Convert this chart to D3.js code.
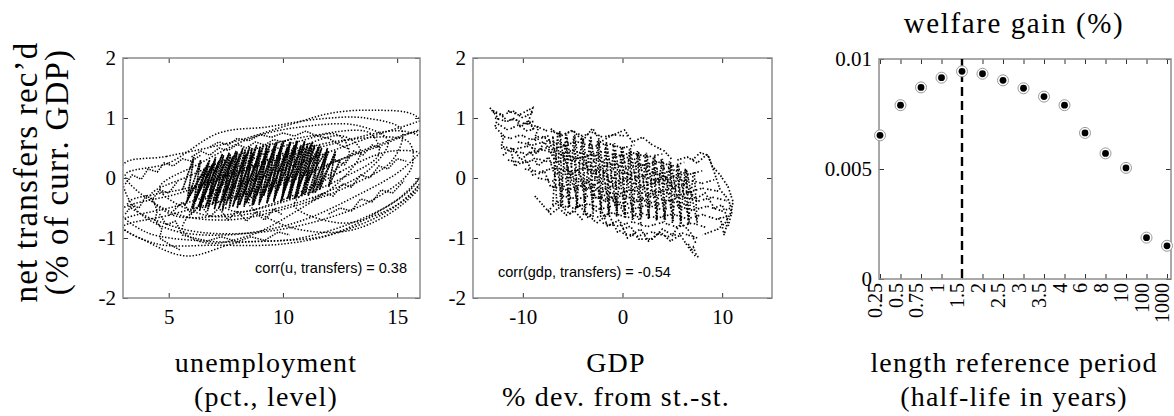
<!DOCTYPE html>
<html>
<head>
<meta charset="utf-8">
<title>transfers and welfare gain</title>
<style>
  body { margin: 0; background: #fff; }
  svg text.lab, svg .tick text { font-family: "Liberation Serif", "Times New Roman", Times, serif; fill: #000; }
</style>
</head>
<body>
<script src="https://d3js.org/d3.v7.min.js"></script>
<script>
// ---- tick values ----
var uTicks = [5, 10, 15];
var gdpTicks = [-10, 0, 10];
var transferTicks = [-2, -1, 0, 1, 2];
var gainTicks = [0, 0.005, 0.01];

// ---- right panel: welfare gain by half-life of the reference period ----
var periods = ["0.25", "0.5", "0.75", "1", "1.5", "2", "2.5", "3", "3.5", "4", "6", "8", "10", "100", "1000"];
var welfare = [0.00653, 0.0079, 0.00871, 0.00915, 0.00944, 0.00933, 0.00903, 0.00867, 0.00829, 0.0079, 0.00664, 0.00571, 0.00505, 0.00188, 0.00151];
var chosenPeriod = "1.5";

// ---- left panel: unemployment vs transfers (traced trajectories) ----
var uLoops = [
  [[3.0,0.22],[4.9,0.36],[7.8,0.6],[10.4,0.9],[12.1,1.08],[13.9,1.13],[15.8,1.04],[16.4,0.7],[15.4,0.2],[13.2,-0.3],[10.5,-0.75],[7.5,-0.95],[5,-0.85],[3.4,-0.45]],
  [[2.8,-0.75],[5.5,-0.45],[9,0.0],[12.5,0.5],[15.2,0.85],[16.5,0.95],[16.6,0.4],[15.2,-0.3],[13,-0.75],[10.5,-1.02],[8,-1.08],[5.8,-1.3],[4.0,-1.05]],
  [[3.1,0.05],[5.0,0.25],[7.2,0.75],[9.3,0.85],[11.5,0.98],[13.6,1.0],[15.2,0.8],[14.8,0.3],[12.8,-0.15],[10.2,-0.5],[7.5,-0.7],[5,-0.55]],
  [[4.6,-0.17],[6.4,0.25],[8.7,0.68],[11,0.86],[13.2,0.88],[14.6,0.62],[13.8,0.15],[11.8,-0.25],[9.2,-0.55],[6.6,-0.62]],
  [[2.9,-0.55],[5.5,-0.25],[8.5,0.15],[12,0.55],[15.3,0.78],[16.4,0.55],[15.8,-0.1],[14,-0.6],[12,-0.95],[9.5,-1.05],[6.5,-1.05],[4.0,-0.9]],
  [[3.2,-0.42],[6,-0.15],[9,0.25],[12.5,0.62],[15.5,0.6],[15.6,0.15],[14,-0.35],[11.5,-0.72],[8.5,-0.92],[5.6,-0.85]],
  [[8.5,-0.4],[11,0.05],[13.8,0.5],[16.3,0.75],[16.4,0.1],[15.2,-0.45],[13.2,-0.85],[11.5,-0.9],[9.8,-0.75]],
  [[5.6,-0.85],[6.6,-0.35],[8.2,0.1],[10.5,0.48],[12.6,0.7],[13.4,0.45],[12.5,-0.05],[10.6,-0.55],[8.6,-0.95],[6.6,-1.08]],
  [[10.5,-0.45],[12.5,0.1],[14.8,0.45],[16.3,0.35],[15.8,-0.2],[14.2,-0.6],[12.5,-0.75]],
  [[3.0,-0.82],[5,-0.62],[8,-0.3],[11,0.1],[14,0.5],[16.5,0.8],[16.5,0.2],[15,-0.45],[12.5,-0.9],[10,-1.1],[7,-1.12],[4.5,-1.1]],
  [[4.2,-0.3],[6,0.05],[8.5,0.45],[11.2,0.7],[13.8,0.75],[14.2,0.4],[12.6,0.0],[10,-0.4],[7.4,-0.62],[5.2,-0.62]],
  [[6.8,-0.2],[8.6,0.3],[10.8,0.62],[12.4,0.72],[12.9,0.4],[11.6,-0.05],[9.6,-0.42],[7.8,-0.55]]
];
var uPaths = [
  [[3.1,-0.1],[3.4,0.05],[3.8,-0.02],[4.1,0.15],[4.5,0.1],[4.8,0.25],[5.2,0.2],[5.6,0.32],[6.0,0.28],[6.4,0.38]],
  [[3.1,-0.6],[3.4,-0.45],[3.7,-0.5],[4.0,-0.3],[4.3,-0.35],[4.6,-0.2],[5.0,-0.25],[5.4,-0.05]],
  [[6.8,0.52],[7.2,0.6],[7.6,0.55],[8.0,0.66],[8.5,0.62],[9.0,0.72],[9.5,0.68],[10.0,0.75],[10.5,0.7],[11.0,0.78],[11.5,0.7],[12.0,0.66],[12.5,0.55],[12.9,0.48]],
  [[4.6,-0.6],[4.9,-0.78],[5.3,-0.72],[5.6,-0.95],[6.1,-1.0],[6.7,-1.05],[7.3,-0.98],[8.0,-1.06],[8.6,-0.98],[9.2,-1.04],[9.8,-0.9],[10.3,-0.95]],
  [[11.3,-0.35],[11.8,-0.25],[12.2,-0.3],[12.6,-0.1],[13.0,-0.15],[13.4,0.05],[13.8,0.0],[14.2,0.2],[14.6,0.15],[15.0,0.32],[15.4,0.28]],
  [[11.8,0.15],[12.3,0.3],[12.7,0.22],[13.1,0.45],[13.5,0.38],[13.9,0.55],[14.3,0.5]],
  [[12.0,-0.6],[12.5,-0.5],[13.0,-0.55],[13.4,-0.35],[13.9,-0.4],[14.3,-0.2],[14.8,-0.25],[15.3,-0.05]],
  [[4.3,-0.35],[4.5,-0.55],[4.4,-0.7],[4.7,-0.85],[4.6,-1.0],[5.0,-1.1],[5.5,-1.2]],
  [[5.2,-0.55],[5.6,-0.4],[6.0,-0.6],[6.4,-0.45],[6.8,-0.65],[7.2,-0.5],[7.6,-0.7],[8.0,-0.55],[8.4,-0.72],[8.8,-0.58],[9.2,-0.7],[9.6,-0.52],[10.0,-0.62]],
  [[6.0,0.35],[6.4,0.45],[6.8,0.38],[7.2,0.5],[7.6,0.46],[8.0,0.56],[8.4,0.5],[8.8,0.6],[9.2,0.55],[9.6,0.64],[10.0,0.6],[10.4,0.66]]
];
var uCore = [
  [[5.7,-0.45],[6.6,0.15],[6.0,-0.5],[6.9,0.22],[6.3,-0.48],[7.2,0.28],[6.6,-0.5],[7.5,0.3],[6.9,-0.45],[7.8,0.35],[7.2,-0.5],[8.1,0.38],[7.5,-0.45],[8.4,0.4],[7.8,-0.48],[8.7,0.42],[8.1,-0.45],[9.0,0.45],[8.4,-0.42],[9.3,0.45],[8.7,-0.45],[9.6,0.5],[9.0,-0.4],[9.9,0.5],[9.3,-0.42],[10.2,0.52],[9.6,-0.38],[10.5,0.55],[9.9,-0.4],[10.8,0.55],[10.2,-0.35],[11.1,0.58],[10.5,-0.35],[11.4,0.55],[10.8,-0.3],[11.7,0.5],[11.1,-0.3],[12.0,0.45],[11.4,-0.25],[12.3,0.4]],
  [[5.9,-0.3],[6.8,0.3],[6.15,-0.38],[7.05,0.32],[6.45,-0.4],[7.35,0.4],[6.75,-0.35],[7.65,0.42],[7.05,-0.4],[7.95,0.45],[7.35,-0.38],[8.25,0.5],[7.65,-0.35],[8.55,0.52],[7.95,-0.36],[8.85,0.55],[8.25,-0.3],[9.15,0.55],[8.55,-0.32],[9.45,0.58],[8.85,-0.28],[9.75,0.6],[9.15,-0.3],[10.05,0.62],[9.45,-0.25],[10.35,0.6],[9.75,-0.22],[10.65,0.62],[10.05,-0.2],[10.95,0.6],[10.35,-0.18],[11.25,0.58],[10.65,-0.15],[11.55,0.5],[10.95,-0.12],[11.85,0.42]],
  [[5.6,-0.2],[6.1,0.35],[5.8,-0.4],[6.4,0.3],[6.05,-0.52],[6.75,0.25],[6.35,-0.55],[7.05,0.35],[6.7,-0.55],[7.4,0.38],[7.0,-0.52],[7.7,0.4],[7.35,-0.55],[8.0,0.44],[7.65,-0.5],[8.35,0.48],[8.0,-0.5],[8.65,0.5],[8.3,-0.48],[9.0,0.52],[8.65,-0.46],[9.3,0.55],[8.95,-0.45],[9.65,0.58],[9.3,-0.42],[9.95,0.58],[9.6,-0.4],[10.3,0.6],[9.95,-0.38],[10.6,0.62],[10.3,-0.35],[10.95,0.62],[10.6,-0.32],[11.3,0.6],[10.95,-0.28],[11.6,0.55],[11.3,-0.25],[11.95,0.5],[11.6,-0.2],[12.3,0.45],[12.0,-0.15],[12.5,0.3]]
];

// ---- middle panel: GDP deviation vs transfers (traced trajectories) ----
var gdpPaths = [
  [[-13.3,1.17],[-12.5,1.0],[-12.8,0.85],[-11.9,0.7],[-12.2,0.5],[-11.2,0.45],[-10.8,0.2],[-9.6,0.3],[-9.0,0.05],[-7.8,0.1],[-7.2,-0.15],[-6,-0.1],[-5.2,-0.35]],
  [[-11.5,1.12],[-10.4,1.05],[-9.0,1.17],[-9.5,0.9],[-8.4,0.85],[-8.9,0.62],[-7.5,0.7],[-7.0,0.45],[-5.8,0.55],[-5.2,0.3],[-4.0,0.35],[-3.3,0.1],[-2.0,0.15],[-1.2,-0.1]],
  [[-12.0,0.38],[-11.0,0.5],[-10.2,0.3],[-9.2,0.45],[-8.5,0.2],[-7.4,0.35],[-6.8,0.05],[-5.5,0.15],[-4.8,-0.2],[-3.5,-0.05],[-2.6,-0.35],[-1.3,-0.25],[-0.5,-0.5]],
  [[-7.2,0.82],[-6.2,0.7],[-5.0,0.8],[-4.0,0.62],[-3.0,0.83],[-2.2,0.6],[-1.2,0.7],[0.2,0.8],[1.0,0.6],[2.0,0.68],[3.0,0.55],[4.2,0.45],[5.0,0.3]],
  [[-7.5,-0.55],[-6.5,-0.4],[-5.3,-0.6],[-4.3,-0.45],[-3.5,-0.65],[-2.2,-0.5],[-1.5,-0.8],[-0.3,-0.7],[0.5,-1.0],[1.8,-0.85],[2.6,-1.05],[3.8,-0.9],[4.8,-1.05],[5.8,-0.95],[6.6,-1.15],[7.3,-1.3]],
  [[5.5,0.3],[6.5,0.35],[7.5,0.25],[8.5,0.4],[9.0,0.2],[9.8,0.05],[10.6,-0.15],[11.1,-0.4],[10.8,-0.6],[10.3,-0.75],[9.6,-0.85],[8.8,-0.9],[8.0,-0.95]],
  [[3.0,-0.1],[4.2,0.05],[5.2,-0.2],[6.3,-0.1],[7.3,-0.35],[8.3,-0.25],[9.2,-0.5],[10.0,-0.45],[10.6,-0.7],[10.2,-0.95],[9.8,-0.65]],
  [[-13.0,1.1],[-12.2,1.05],[-11.5,0.95],[-10.8,1.0],[-10.2,0.85],[-9.5,0.95],[-8.8,0.8]],
  [[-3.8,-0.55],[-2.6,-0.75],[-1.4,-0.6],[-0.5,-0.9],[0.8,-0.8],[1.6,-1.02],[3.0,-1.02],[4.0,-0.85],[5.0,-0.95],[5.9,-0.75],[6.8,-0.9],[7.4,-1.1]],
  [[-9.5,0.6],[-8.6,0.4],[-7.8,0.6],[-6.8,0.3],[-6,0.4],[-5.2,0.05],[-4.5,0.15],[-3.7,-0.2],[-2.8,-0.1],[-1.8,-0.4],[-0.8,-0.3],[0.2,-0.6],[1.2,-0.55],[2,-0.8]],
  [[-8.8,-0.3],[-8.0,-0.45],[-7.2,-0.6],[-6.4,-0.5],[-5.6,-0.62],[-4.8,-0.55],[-4.0,-0.7]],
  [[7.0,0.3],[7.8,0.42],[8.6,0.38],[9.2,0.1],[9.8,-0.2],[10.6,-0.35],[11.0,-0.55],[10.6,-0.8]],
  [[6.6,-1.1],[6.9,-1.2],[7.1,-1.15],[7.4,-1.28],[7.6,-1.32]]
];
// body of the cloud, traced as wavy rows of points
var gdpRows = [
  [[-13,1.12],[-12,1.05],[-11,1.12],[-10,1.0],[-9,1.1]],
  [[-12.8,1.0],[-11.8,0.95],[-10.8,0.98],[-9.8,0.9],[-8.8,0.95]],
  [[-12.5,0.9],[-11.5,0.8],[-10.5,0.88],[-9.5,0.78],[-8.5,0.85],[-7.5,0.78]],
  [[-12.2,0.7],[-11.2,0.66],[-10.2,0.72],[-9.2,0.64],[-8.2,0.7],[-7.2,0.62]],
  [[-7.2,0.78],[-6,0.72],[-5,0.78],[-4,0.7],[-3,0.76],[-2,0.68],[-1,0.72],[0.5,0.7]],
  [[-10.5,0.6],[-9,0.55],[-7.5,0.62],[-6,0.55],[-4.5,0.6],[-3,0.52],[-1.5,0.58],[0,0.5],[1.2,0.55]],
  [[-12,0.52],[-10.8,0.48],[-9.6,0.53],[-8.4,0.47],[-7.2,0.52]],
  [[-11,0.45],[-9.5,0.4],[-8,0.47],[-6.5,0.4],[-5,0.46],[-3.5,0.38],[-2,0.44],[-0.5,0.37],[1,0.42],[2.5,0.35],[4,0.4]],
  [[-11.5,0.3],[-10,0.25],[-8.5,0.32],[-7,0.25],[-5.5,0.31],[-4,0.24],[-2.5,0.3],[-1,0.22],[0.5,0.29],[2,0.21],[3.5,0.27],[5,0.2],[6.2,0.26]],
  [[-9.8,0.15],[-8.3,0.1],[-6.8,0.17],[-5.3,0.1],[-3.8,0.16],[-2.3,0.09],[-0.8,0.15],[0.7,0.08],[2.2,0.14],[3.7,0.07],[5.2,0.13],[6.7,0.06],[8,0.12]],
  [[-8.5,0.0],[-7,-0.05],[-5.5,0.02],[-4,-0.06],[-2.5,0.01],[-1,-0.07],[0.5,0.0],[2,-0.08],[3.5,-0.01],[5,-0.08],[6.5,-0.02],[8,-0.09],[9.2,-0.03]],
  [[-7,-0.15],[-5.5,-0.2],[-4,-0.13],[-2.5,-0.21],[-1,-0.14],[0.5,-0.22],[2,-0.15],[3.5,-0.23],[5,-0.16],[6.5,-0.24],[8,-0.17],[9.6,-0.22]],
  [[-6,-0.3],[-4.5,-0.35],[-3,-0.28],[-1.5,-0.36],[0,-0.29],[1.5,-0.37],[3,-0.3],[4.5,-0.38],[6,-0.31],[7.5,-0.39],[9,-0.32],[10.5,-0.38]],
  [[-6.5,-0.45],[-5,-0.5],[-3.5,-0.43],[-2,-0.51],[-0.5,-0.44],[1,-0.52],[2.5,-0.45],[4,-0.53],[5.5,-0.46],[7,-0.54],[8.5,-0.47],[10,-0.55],[10.9,-0.5]],
  [[-4,-0.6],[-2.5,-0.65],[-1,-0.58],[0.5,-0.66],[2,-0.59],[3.5,-0.67],[5,-0.6],[6.5,-0.68],[8,-0.61],[9.5,-0.69],[10.5,-0.64]],
  [[-2,-0.75],[-0.5,-0.8],[1,-0.73],[2.5,-0.81],[4,-0.74],[5.5,-0.82],[7,-0.75],[8.5,-0.83]],
  [[0,-0.92],[1.5,-0.97],[3,-0.9],[4.5,-0.98],[6,-0.92],[7.5,-1.0]],
  [[-3,0.08],[-1.5,0.03],[0,0.09],[1.5,0.02],[3,0.08],[4.5,0.01],[6,0.06]],
  [[-2.5,-0.07],[-1,-0.12],[0.5,-0.06],[2,-0.13],[3.5,-0.07],[5,-0.14],[6.5,-0.08]],
  [[-2,-0.22],[-0.5,-0.27],[1,-0.21],[2.5,-0.28],[4,-0.22],[5.5,-0.29],[7,-0.23]],
  [[-1,-0.38],[0.5,-0.43],[2,-0.37],[3.5,-0.44],[5,-0.38],[6.5,-0.45]],
  [[-4,0.22],[-2.5,0.17],[-1,0.23],[0.5,0.16],[2,0.22],[3.5,0.15],[5,0.19]],
  [[-6,0.38],[-4.5,0.33],[-3,0.38],[-1.5,0.31],[0,0.36],[1.5,0.3]],
  [[-1,0.0],[0.5,-0.03],[2,0.03],[3.5,-0.04],[5,0.01],[6.5,-0.05]]
];
// dense middle of the cloud, crossing strokes
var gdpCore = [
  [[-7,-0.45],[-6.5,0.75],[-6.2,-0.48],[-5.7,0.72],[-5.4,-0.5],[-4.9,0.7],[-4.6,-0.52],[-4.1,0.68],[-3.8,-0.55],[-3.3,0.65],[-3.0,-0.57],[-2.5,0.62],[-2.2,-0.6],[-1.7,0.58],[-1.4,-0.62],[-0.9,0.55],[-0.6,-0.65],[-0.1,0.52],[0.2,-0.67],[0.7,0.48],[1.0,-0.7],[1.5,0.45],[1.8,-0.7],[2.3,0.4],[2.6,-0.7],[3.1,0.36],[3.4,-0.72],[3.9,0.32],[4.2,-0.73],[4.7,0.28],[5.0,-0.75],[5.5,0.22],[5.8,-0.76],[6.3,0.16],[6.6,-0.78],[7.1,0.1]],
  [[-6.6,-0.4],[-7.0,0.7],[-6.0,-0.45],[-6.3,0.78],[-5.3,-0.5],[-5.6,0.72],[-4.5,-0.5],[-4.8,0.72],[-3.7,-0.5],[-4.0,0.7],[-2.9,-0.55],[-3.2,0.7],[-2.1,-0.55],[-2.4,0.64],[-1.3,-0.6],[-1.6,0.6],[-0.5,-0.62],[-0.8,0.58],[0.3,-0.62],[0.0,0.52],[1.1,-0.68],[0.8,0.5],[1.9,-0.66],[1.6,0.45],[2.7,-0.68],[2.4,0.42],[3.5,-0.7],[3.2,0.38],[4.3,-0.7],[4.0,0.32],[5.1,-0.72],[4.8,0.28],[5.9,-0.72],[5.6,0.22],[6.7,-0.75],[6.4,0.15],[7.5,-0.75],[7.2,0.1]]
];

var svg = d3.select("body").append("svg")
  .attr("width", 1174)
  .attr("height", 416);

var boxColor = "#8c8c8c";

// draws box + inward ticks like matlab, returns the plot group
function makePanel(id, left, top, w, h, x, y, xTicks, yTicks, showXLabels) {
  var g = svg.append("g").attr("transform", "translate(" + left + "," + top + ")");

  g.append("clipPath").attr("id", id)
    .append("rect").attr("width", w).attr("height", h);

  var fmt = function (d) { return String(d); };
  var bottom = d3.axisBottom(x).tickSizeInner(-5).tickSizeOuter(0).tickPadding(11)
    .tickFormat(showXLabels ? fmt : "");
  if (xTicks) bottom.tickValues(xTicks);
  var topAx = d3.axisTop(x).tickSizeInner(-5).tickSizeOuter(0).tickFormat("");
  if (xTicks) topAx.tickValues(xTicks);

  g.append("g").attr("transform", "translate(0," + h + ")").call(bottom);
  g.append("g").call(topAx);
  g.append("g").call(d3.axisLeft(y).tickValues(yTicks).tickSizeInner(-5).tickSizeOuter(0).tickPadding(7).tickFormat(fmt));
  g.append("g").attr("transform", "translate(" + w + ",0)")
    .call(d3.axisRight(y).tickValues(yTicks).tickSizeInner(-5).tickSizeOuter(0).tickFormat(""));

  g.selectAll(".domain").remove();
  g.selectAll(".tick line").attr("stroke", "#333");
  g.selectAll(".tick text").attr("font-size", 21);

  g.append("rect").attr("width", w).attr("height", h)
    .attr("fill", "none").attr("stroke", boxColor).attr("stroke-width", 1.5);
  return g;
}

// ---- panel 1 ----
var x1 = d3.scaleLinear().domain([3, 16]).range([0, 297]);
var y1 = d3.scaleLinear().domain([-2, 2]).range([240, 0]);
var p1 = makePanel("clip1", 123, 58, 297, 240, x1, y1, uTicks, transferTicks, true);
var data1 = p1.insert("g", ":first-child").attr("clip-path", "url(#clip1)");
var loopLine = d3.line().x(function (d) { return x1(d[0]); }).y(function (d) { return y1(d[1]); })
  .curve(d3.curveCatmullRomClosed);
var jagLine1 = d3.line().x(function (d) { return x1(d[0]); }).y(function (d) { return y1(d[1]); });

data1.selectAll(".loop").data(uLoops).enter().append("path")
  .attr("d", loopLine)
  .attr("fill", "none").attr("stroke", "#000").attr("stroke-width", 1.5)
  .attr("stroke-dasharray", "1.4,1.8");
data1.selectAll(".jag").data(uPaths).enter().append("path")
  .attr("d", jagLine1)
  .attr("fill", "none").attr("stroke", "#000").attr("stroke-width", 1.5)
  .attr("stroke-dasharray", "1.4,1.3");
data1.selectAll(".core").data(uCore).enter().append("path")
  .attr("d", jagLine1)
  .attr("fill", "none").attr("stroke", "#000").attr("stroke-width", 1.6)
  .attr("stroke-dasharray", "2,0.6");

p1.append("text")
  .attr("x", 284).attr("y", 215)
  .attr("text-anchor", "end")
  .attr("font-family", "'Liberation Sans', Arial, sans-serif")
  .attr("font-size", 14.5)
  .text("corr(u, transfers) = 0.38");

// ---- panel 2 ----
var x2 = d3.scaleLinear().domain([-15, 15]).range([0, 299]);
var y2 = d3.scaleLinear().domain([-2, 2]).range([240, 0]);
var p2 = makePanel("clip2", 473, 58, 299, 240, x2, y2, gdpTicks, transferTicks, true);
var data2 = p2.insert("g", ":first-child").attr("clip-path", "url(#clip2)");
var jagLine2 = d3.line().x(function (d) { return x2(d[0]); }).y(function (d) { return y2(d[1]); });
data2.selectAll(".gdp").data(gdpPaths).enter().append("path")
  .attr("d", jagLine2)
  .attr("fill", "none").attr("stroke", "#000").attr("stroke-width", 1.7)
  .attr("stroke-dasharray", "1.5,1.4,1.5,2.4,1.5,1.9");
data2.selectAll(".grow").data(gdpRows).enter().append("path")
  .attr("d", jagLine2)
  .attr("fill", "none").attr("stroke", "#000").attr("stroke-width", 1.7)
  .attr("stroke-dasharray", "1.5,1.6,1.5,2.6,1.5,1.2,1.5,3.2");
data2.selectAll(".gcore").data(gdpCore).enter().append("path")
  .attr("d", jagLine2)
  .attr("fill", "none").attr("stroke", "#000").attr("stroke-width", 1.6)
  .attr("stroke-dasharray", "1.5,2,1.5,1.4,1.5,2.8");

p2.append("text")
  .attr("x", 25).attr("y", 219)
  .attr("font-family", "'Liberation Sans', Arial, sans-serif")
  .attr("font-size", 14.5)
  .text("corr(gdp, transfers) = -0.54");

// ---- panel 3 ----
var x3 = d3.scalePoint().domain(periods).range([1, 288]);
var y3 = d3.scaleLinear().domain([0, 0.01]).range([220, 0]);
var p3 = makePanel("clip3", 879, 59, 292, 220, x3, y3, null, gainTicks, false);

p3.selectAll(".plab").data(periods).enter().append("text")
  .attr("class", "lab")
  .attr("transform", function (d) { return "translate(" + x3(d) + ",224) rotate(-90)"; })
  .attr("text-anchor", "end")
  .attr("dy", "0.12em")
  .attr("font-size", 20)
  .text(function (d) { return d; });

p3.append("line")
  .attr("x1", x3(chosenPeriod)).attr("x2", x3(chosenPeriod))
  .attr("y1", 0).attr("y2", 220)
  .attr("stroke", "#000").attr("stroke-width", 2.4)
  .attr("stroke-dasharray", "9,5");

var pts = periods.map(function (p, i) { return { p: p, v: welfare[i] }; });
p3.selectAll(".ring").data(pts).enter().append("circle")
  .attr("cx", function (d) { return x3(d.p); })
  .attr("cy", function (d) { return y3(d.v); })
  .attr("r", 5.5)
  .attr("fill", "#fff").attr("stroke", "#999").attr("stroke-width", 1);
p3.selectAll(".dot").data(pts).enter().append("circle")
  .attr("cx", function (d) { return x3(d.p); })
  .attr("cy", function (d) { return y3(d.v); })
  .attr("r", 3.4)
  .attr("fill", "#000");

// ---- axis titles ----
function label(x, y, txt, size, rot, spacing) {
  svg.append("text").attr("class", "lab")
    .attr("transform", "translate(" + x + "," + y + ")" + (rot ? " rotate(-90)" : ""))
    .attr("text-anchor", "middle")
    .attr("font-size", size)
    .attr("letter-spacing", (spacing || 1.2) + "px")
    .text(txt);
}
label(37, 172, "net transfers rec\u2019d", 33, true);
label(68, 172, "(% of curr. GDP)", 33, true);
label(266, 372, "unemployment", 28);
label(266, 406, "(pct., level)", 28);
label(616, 372, "GDP", 28);
label(616, 406, "% dev. from st.-st.", 28);
label(1014, 372, "length reference period", 28);
label(1014, 406, "(half-life in years)", 28);
label(1014, 33, "welfare gain (%)", 29, false, 1.6);
</script>
</body>
</html>
